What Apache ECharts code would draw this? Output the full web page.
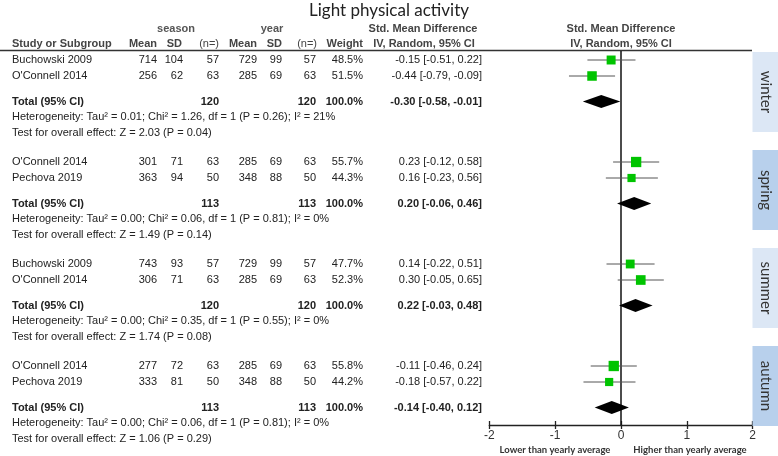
<!DOCTYPE html>
<html><head><meta charset="utf-8">
<script src="https://cdn.jsdelivr.net/npm/echarts@6/dist/echarts.min.js"></script>
<style>html,body{margin:0;padding:0;background:#fff}#c{width:778px;height:456px}</style>
</head><body><div id="c"></div>
<script>
// ---------- data ----------
const groups = ['winter', 'spring', 'summer', 'autumn'];
const studyGroup = [0, 0, 1, 1, 2, 2, 3, 3];
const studyName = ['Buchowski 2009', "O'Connell 2014", "O'Connell 2014", 'Pechova 2019', 'Buchowski 2009', "O'Connell 2014", "O'Connell 2014", 'Pechova 2019'];
const seasonMean = [714, 256, 301, 363, 743, 306, 277, 333];
const seasonSD = [104, 62, 71, 94, 93, 71, 72, 81];
const seasonN = [57, 63, 63, 50, 57, 63, 63, 50];
const yearMean = [729, 285, 285, 348, 729, 285, 285, 348];
const yearSD = [99, 69, 69, 88, 99, 69, 69, 88];
const yearN = [57, 63, 63, 50, 57, 63, 63, 50];
const weight = [48.5, 51.5, 55.7, 44.3, 47.7, 52.3, 55.8, 44.2];
const smd = [-0.15, -0.44, 0.23, 0.16, 0.14, 0.30, -0.11, -0.18];
const ciLow = [-0.51, -0.79, -0.12, -0.23, -0.22, -0.05, -0.46, -0.57];
const ciHigh = [0.22, -0.09, 0.58, 0.56, 0.51, 0.65, 0.24, 0.22];

const totalSeasonN = [120, 113, 120, 113];
const totalYearN = [120, 113, 120, 113];
const totalWeight = ['100.0%', '100.0%', '100.0%', '100.0%'];
const totalSMD = [-0.30, 0.20, 0.22, -0.14];
const totalLow = [-0.58, -0.06, -0.03, -0.40];
const totalHigh = [-0.01, 0.46, 0.48, 0.12];
const heterogeneity = [
  'Heterogeneity: Tau\u00b2 = 0.01; Chi\u00b2 = 1.26, df = 1 (P = 0.26); I\u00b2 = 21%',
  'Heterogeneity: Tau\u00b2 = 0.00; Chi\u00b2 = 0.06, df = 1 (P = 0.81); I\u00b2 = 0%',
  'Heterogeneity: Tau\u00b2 = 0.00; Chi\u00b2 = 0.35, df = 1 (P = 0.55); I\u00b2 = 0%',
  'Heterogeneity: Tau\u00b2 = 0.00; Chi\u00b2 = 0.06, df = 1 (P = 0.81); I\u00b2 = 0%'
];
const overallEffect = [
  'Test for overall effect: Z = 2.03 (P = 0.04)',
  'Test for overall effect: Z = 1.49 (P = 0.14)',
  'Test for overall effect: Z = 1.74 (P = 0.08)',
  'Test for overall effect: Z = 1.06 (P = 0.29)'
];
const xTicks = [-2, -1, 0, 1, 2];

// ---------- layout ----------
const GROUP_STEP = 6.375, TOTAL_OFF = 2.6, HET_OFF = 3.55, TEST_OFF = 4.55;
const Y_MIN = -0.5625, Y_MAX = 22.8125;
const PANEL_STEP = 6.125, PANEL_TOP = -0.5, PANEL_H = 5;
const FONT = '"Liberation Sans", Arial, sans-serif';
const TXT = '#222';
const HDR = '#444';
const col = { name: 12, sMean: 157, sSD: 183, sN: 219, yMean: 257, ySD: 282, yN: 316, weight: 363, smd: 482 };

function fmt(v) { return v.toFixed(2); }
function ciText(m, l, h) { return fmt(m) + ' [' + fmt(l) + ', ' + fmt(h) + ']'; }

// table rows
const tableRows = [];
studyName.forEach((n, i) => {
  const g = studyGroup[i];
  const j = studyGroup.slice(0, i).filter(x => x === g).length;
  tableRows.push({ y: g * GROUP_STEP + j, bold: false, cells: [
    [col.name, 'left', n], [col.sMean, 'right', String(seasonMean[i])], [col.sSD, 'right', String(seasonSD[i])],
    [col.sN, 'right', String(seasonN[i])], [col.yMean, 'right', String(yearMean[i])], [col.ySD, 'right', String(yearSD[i])],
    [col.yN, 'right', String(yearN[i])], [col.weight, 'right', weight[i].toFixed(1) + '%'],
    [col.smd, 'right', ciText(smd[i], ciLow[i], ciHigh[i])]
  ]});
});
groups.forEach((g, k) => {
  tableRows.push({ y: k * GROUP_STEP + TOTAL_OFF, bold: true, cells: [
    [col.name, 'left', 'Total (95% CI)'], [col.sN, 'right', String(totalSeasonN[k])], [col.yN, 'right', String(totalYearN[k])],
    [col.weight, 'right', totalWeight[k]], [col.smd, 'right', ciText(totalSMD[k], totalLow[k], totalHigh[k])]
  ]});
  tableRows.push({ y: k * GROUP_STEP + HET_OFF, bold: false, cells: [[col.name, 'left', heterogeneity[k]]] });
  tableRows.push({ y: k * GROUP_STEP + TEST_OFF, bold: false, cells: [[col.name, 'left', overallEffect[k]]] });
});

const studyData = smd.map((m, i) => {
  const g = studyGroup[i];
  const j = studyGroup.slice(0, i).filter(x => x === g).length;
  return [m, g * GROUP_STEP + j, ciLow[i], ciHigh[i], weight[i]];
});
const totalData = totalSMD.map((m, k) => [m, k * GROUP_STEP + TOTAL_OFF, totalLow[k], totalHigh[k]]);
const panelData = groups.map((g, k) => [0, PANEL_TOP + k * PANEL_STEP, PANEL_H]);

const chart = echarts.init(document.getElementById('c'), null, { renderer: 'canvas' });

function hdrText(text, x, y, align, bold, color) {
  return { type: 'text', x: x, y: y, style: { text: text, align: align, verticalAlign: 'middle',
    font: (bold ? 'bold ' : '') + '11px ' + FONT, fill: color || HDR } };
}

chart.setOption({
  backgroundColor: '#fff',
  animation: false,
  grid: { left: 489.3, right: 25.3, top: 51, bottom: 31 },
  xAxis: [
    { type: 'value', min: -2, max: 2, interval: 1, position: 'bottom',
      axisLine: { onZero: false, lineStyle: { color: '#222', width: 1.3 } },
      axisTick: { length: 4, lineStyle: { color: '#222', width: 1.3 } },
      axisLabel: { color: '#333', fontSize: 12, fontFamily: FONT, margin: 5 },
      splitLine: { show: false } },
    { type: 'value', min: -2, max: 2, interval: 1, position: 'bottom',
      axisLine: { show: false, onZero: false },
      axisTick: { inside: true, length: 4, lineStyle: { color: '#222', width: 1.3 } },
      axisLabel: { show: false }, splitLine: { show: false } }
  ],
  yAxis: { type: 'value', inverse: true, min: Y_MIN, max: Y_MAX, show: false },
  graphic: [
    { type: 'text', x: 389, y: 11, style: { text: 'Light physical activity', align: 'center', verticalAlign: 'middle',
      font: '17px Lato, "Open Sans", sans-serif', fill: '#222' } },
    hdrText('season', 176, 29, 'center', true, '#555'),
    hdrText('year', 272, 29, 'center', true, '#555'),
    hdrText('Study or Subgroup', col.name, 44, 'left', true),
    hdrText('Mean', col.sMean, 44, 'right', true),
    hdrText('SD', col.sSD - 1, 44, 'right', true),
    hdrText('(n=)', col.sN, 44, 'right', false),
    hdrText('Mean', col.yMean, 44, 'right', true),
    hdrText('SD', col.ySD, 44, 'right', true),
    hdrText('(n=)', col.yN + 1, 44, 'right', false),
    hdrText('Weight', col.weight, 44, 'right', true),
    hdrText('Std. Mean Difference', 423, 29, 'center', true),
    hdrText('IV, Random, 95% CI', 424, 44, 'center', true),
    hdrText('Std. Mean Difference', 621, 29, 'center', true),
    hdrText('IV, Random, 95% CI', 621, 44, 'center', true),
    { type: 'line', shape: { x1: 0, y1: 50.5, x2: 752, y2: 50.5 }, style: { stroke: '#333', lineWidth: 1.3 } },
    { type: 'text', x: 555, y: 450, style: { text: 'Lower than yearly average', align: 'center', verticalAlign: 'middle',
      font: 'bold 9.5px Lato, sans-serif', fill: '#333' } },
    { type: 'text', x: 690, y: 450, style: { text: 'Higher than yearly average', align: 'center', verticalAlign: 'middle',
      font: 'bold 9.5px Lato, sans-serif', fill: '#333' } }
  ],
  series: [
    { // side panels
      type: 'custom', clip: false, silent: true, z: 1,
      data: panelData,
      renderItem: function (params, api) {
        const top = api.coord([0, api.value(1)])[1];
        const bot = api.coord([0, api.value(1) + api.value(2)])[1];
        const k = params.dataIndex;
        return { type: 'group', children: [
          { type: 'rect', shape: { x: 752.5, y: top, width: 25.5, height: bot - top },
            style: { fill: k % 2 === 0 ? '#dce7f5' : '#b8d0ec' } },
          { type: 'text', x: 765.5, y: (top + bot) / 2, rotation: -Math.PI / 2,
            style: { text: groups[k], align: 'center', verticalAlign: 'middle', font: '15px Lato, sans-serif', fill: '#333' } }
        ]};
      }
    },
    { // table text
      type: 'custom', clip: false, silent: true, z: 3,
      data: tableRows.map(r => [0, r.y]),
      renderItem: function (params, api) {
        const r = tableRows[params.dataIndex];
        const y = api.coord([0, api.value(1)])[1];
        return { type: 'group', children: r.cells.map(c => ({
          type: 'text', x: c[0], y: y,
          style: { text: c[2], align: c[1], verticalAlign: 'middle',
            font: (r.bold ? 'bold ' : '') + '11px ' + FONT, fill: TXT } })) };
      }
    },
    { // zero line
      type: 'custom', clip: false, silent: true, z: 2,
      data: [[0]],
      renderItem: function (params, api) {
        const p1 = api.coord([api.value(0), Y_MIN]);
        const p2 = api.coord([api.value(0), Y_MAX]);
        return { type: 'line', shape: { x1: p1[0], y1: p1[1], x2: p2[0], y2: p2[1] },
          style: { stroke: '#111', lineWidth: 1.5 } };
      }
    },
    { // studies
      type: 'custom', clip: false, silent: true, z: 4,
      data: studyData,
      renderItem: function (params, api) {
        const c = api.coord([api.value(0), api.value(1)]);
        const l = api.coord([api.value(2), api.value(1)]);
        const h = api.coord([api.value(3), api.value(1)]);
        const s = api.value(4) * 0.185;
        return { type: 'group', children: [
          { type: 'line', shape: { x1: l[0], y1: c[1], x2: h[0], y2: c[1] }, style: { stroke: '#555', lineWidth: 1 } },
          { type: 'rect', shape: { x: c[0] - s / 2, y: c[1] - s / 2, width: s, height: s }, style: { fill: '#00c400' } }
        ]};
      }
    },
    { // totals
      type: 'custom', clip: false, silent: true, z: 4,
      data: totalData,
      renderItem: function (params, api) {
        const c = api.coord([api.value(0), api.value(1)]);
        const l = api.coord([api.value(2), api.value(1)]);
        const h = api.coord([api.value(3), api.value(1)]);
        const hh = 6.5;
        return { type: 'polygon', shape: { points: [[l[0], c[1]], [c[0], c[1] - hh], [h[0], c[1]], [c[0], c[1] + hh]] },
          style: { fill: '#000' } };
      }
    }
  ]
});
</script>
</body></html>
